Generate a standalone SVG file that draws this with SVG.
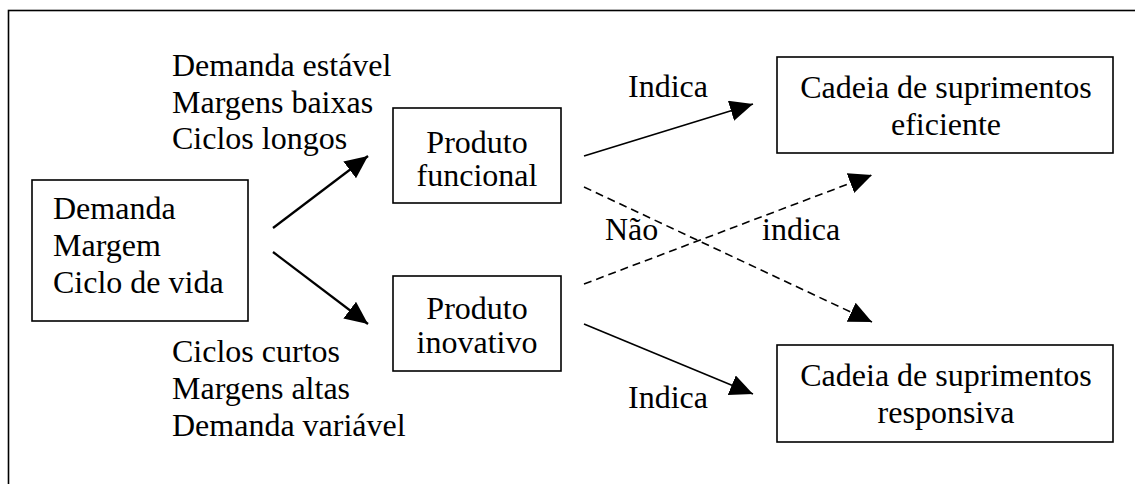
<svg xmlns="http://www.w3.org/2000/svg" width="1135" height="484" viewBox="0 0 1135 484">
<style>
text{font-family:'Liberation Serif','Times New Roman',Times,'DejaVu Serif',serif;font-size:32px;fill:#000}
.box{fill:#fff;stroke:#000;stroke-width:1.6}
.c{text-anchor:middle}
.thick{stroke:#000;stroke-width:2.2;fill:none}
.thin{stroke:#000;stroke-width:1.6;fill:none}
.dash{stroke:#000;stroke-width:1.6;fill:none;stroke-dasharray:8 5}
</style>
<defs>
<marker id="ah" markerUnits="userSpaceOnUse" markerWidth="26" markerHeight="24" refX="23" refY="10.5" orient="auto">
<path d="M0,0 L23,10.5 L0,21 z" fill="#000"/>
</marker>
</defs>
<rect x="8.5" y="10.5" width="1200" height="600" fill="#fff" stroke="#000" stroke-width="1.6"/>
<g id="labels">
<text x="172" y="76">Demanda estável</text>
<text x="172" y="113">Margens baixas</text>
<text x="172" y="149">Ciclos longos</text>
<text x="172" y="362">Ciclos curtos</text>
<text x="172" y="399">Margens altas</text>
<text x="172" y="436">Demanda variável</text>
<text x="628" y="97">Indica</text>
<text x="628" y="408">Indica</text>
<text x="605" y="240">Não</text>
<text x="762" y="240">indica</text>
</g>
<g id="connectors">
<line class="thick" x1="273" y1="228" x2="368" y2="156" marker-end="url(#ah)"/>
<line class="thick" x1="273" y1="252" x2="368" y2="324" marker-end="url(#ah)"/>
<line class="thin" x1="584" y1="156" x2="753" y2="104" marker-end="url(#ah)"/>
<line class="thin" x1="584" y1="324" x2="753" y2="394" marker-end="url(#ah)"/>
<line class="dash" x1="584" y1="187" x2="872" y2="322" marker-end="url(#ah)"/>
<line class="dash" x1="584" y1="284" x2="872" y2="175" marker-end="url(#ah)"/>
</g>
<g id="node-demanda">
<rect class="box" x="32" y="180" width="216" height="141"/>
<text x="53" y="219">Demanda</text>
<text x="53" y="256">Margem</text>
<text x="53" y="293">Ciclo de vida</text>
</g>
<g id="node-funcional">
<rect class="box" x="393" y="108" width="168" height="95"/>
<text class="c" x="477" y="153">Produto</text>
<text class="c" x="477" y="186">funcional</text>
</g>
<g id="node-inovativo">
<rect class="box" x="393" y="276" width="168" height="95"/>
<text class="c" x="477" y="319">Produto</text>
<text class="c" x="477" y="353">inovativo</text>
</g>
<g id="node-eficiente">
<rect class="box" x="777" y="57" width="336" height="96"/>
<text class="c" x="946" y="98">Cadeia de suprimentos</text>
<text class="c" x="946" y="135">eficiente</text>
</g>
<g id="node-responsiva">
<rect class="box" x="777" y="345" width="336" height="97"/>
<text class="c" x="946" y="386">Cadeia de suprimentos</text>
<text class="c" x="946" y="423">responsiva</text>
</g>
</svg>
